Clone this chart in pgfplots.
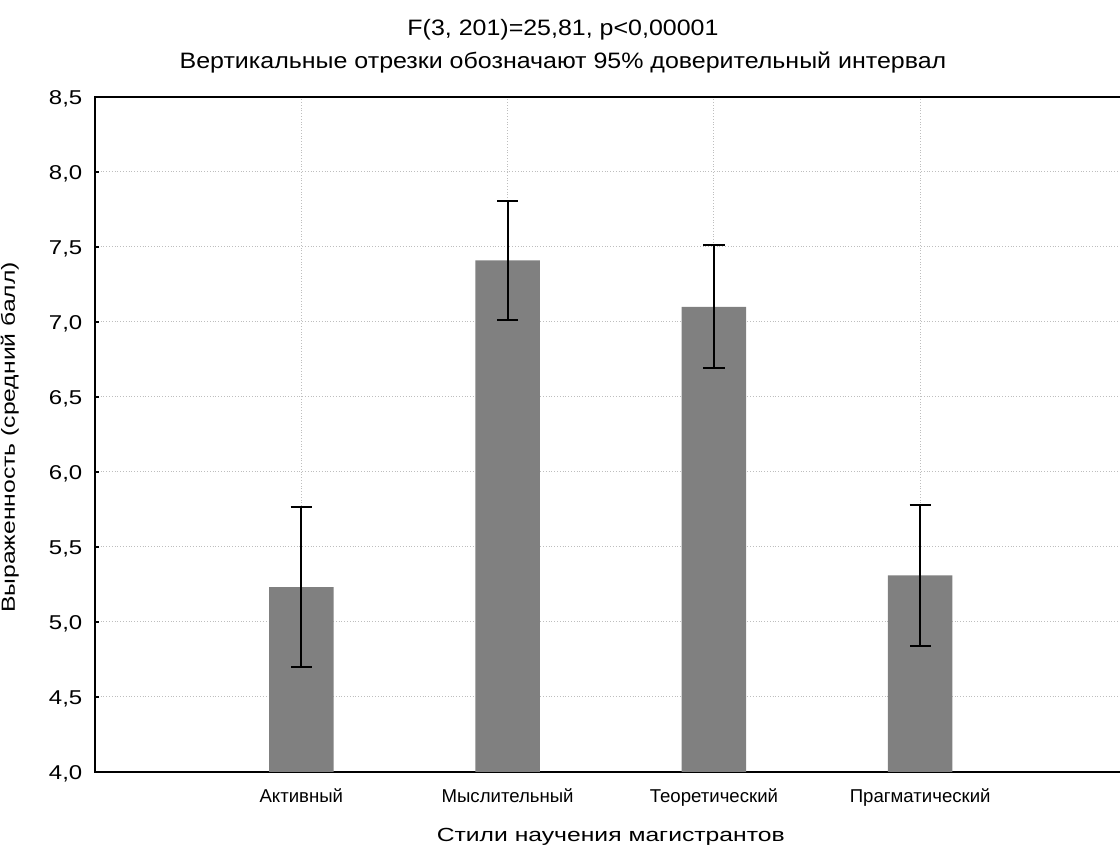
\documentclass[border=0pt]{standalone}
\usepackage{fontspec}
\setmainfont{Liberation Sans}
\newfontfamily\wideF[FakeStretch=1.3]{Liberation Sans}
\newfontfamily\tickF[FakeStretch=1.2]{Liberation Sans}
\newfontfamily\titleF[FakeStretch=1.12]{Liberation Sans}
\usepackage{pgfplots}
\usepackage{pgfplotstable}
\pgfplotsset{compat=1.18}
\definecolor{barg}{RGB}{128,128,128}
\definecolor{gridg}{RGB}{190,190,190}

\pgfplotstableread{
x y err
1 5.233 0.533
2 7.410 0.397
3 7.100 0.410
4 5.310 0.467
}\datatable

\begin{document}
\begin{tikzpicture}
\begin{axis}[
  scale only axis,
  width=515.75pt, height=337.5pt,
  xmin=0, xmax=5, ymin=4, ymax=8.5,
  xtick={1,2,3,4},
  xticklabels={Активный, Мыслительный, Теоретический, Прагматический},
  ytick={4,4.5,5,5.5,6,6.5,7,7.5,8,8.5},
  yticklabel style={/pgf/number format/fixed, /pgf/number format/fixed zerofill, /pgf/number format/precision=1, /pgf/number format/use comma, /pgf/number format/assume math mode=true},
  yticklabel style={font=\tickF\fontsize{10pt}{11pt}\selectfont, anchor=base east, inner sep=0pt, xshift=-6.15pt, yshift=-3.6pt},
  xticklabel style={font=\fontsize{9.3pt}{10pt}\selectfont, anchor=base, inner sep=0pt, yshift=-15.35pt},
  tick pos=left,
  tick align=inside,
  major tick length=2pt,
  tick style={black, line width=1pt},
  axis line style={black, line width=1.2pt},
  xmajorgrids, ymajorgrids,
  major grid style={densely dotted, gridg, line width=0.5pt},
  xlabel={Стили научения магистрантов},
  ylabel={Выраженность (средний балл)},
  every axis x label/.style={at={([yshift=-34.85pt]rel axis cs:0.5,0)}, anchor=base, font=\wideF\fontsize{9.5pt}{10pt}\selectfont},
  every axis y label/.style={at={([xshift=-40pt,yshift=-1.5pt]rel axis cs:0,0.5)}, rotate=90, anchor=base, font=\wideF\fontsize{9.5pt}{10pt}\selectfont},
  title={F(3, 201)=25,81, p<0,00001\\Вертикальные отрезки обозначают 95\% доверительный интервал},
  every axis title/.style={at={([yshift=14pt]rel axis cs:0.4537,1)}, anchor=base, align=center, font=\titleF\fontsize{11.15pt}{16.5pt}\selectfont},
]
\addplot[ybar, bar width=32.25pt, fill=barg, draw=none,
  error bars/.cd, y dir=both, y explicit,
  error bar style={black, line width=1pt},
  error mark options={rotate=90, mark size=5.3pt, line width=1pt, black}]
  table[x=x, y=y, y error=err] {\datatable};
\coordinate (O) at (rel axis cs:0,0);
\end{axis}
\pgfresetboundingbox
\path[use as bounding box] ([xshift=-47.5pt,yshift=-36.5pt]O) rectangle ([xshift=512.5pt,yshift=386pt]O);
\end{tikzpicture}
\end{document}
